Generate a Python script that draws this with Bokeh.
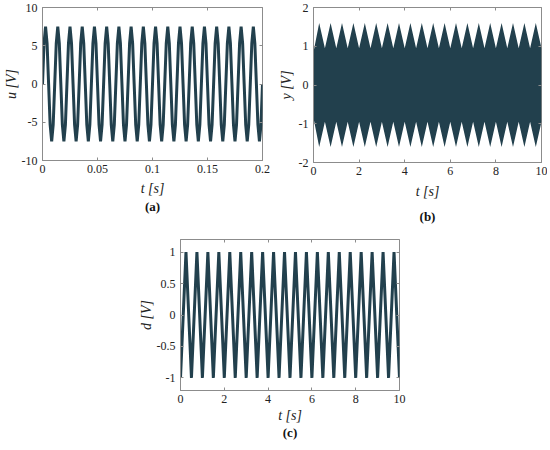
import numpy as np
from bokeh.plotting import figure
from bokeh.models import FixedTicker, LinearAxis, Range1d, Spacer, Title
from bokeh.layouts import column, row
from bokeh.embed import file_html
from bokeh.resources import INLINE

# ---------------- data ----------------
# (a) input voltage u, sampled 8 points per period over 0 .. 0.2 s
u_values = [
    0, 5.3, 7.5, 5.3, 0, -5.3, -7.5, -5.3,
    0, 5.3, 7.5, 5.3, 0, -5.3, -7.5, -5.3,
    0, 5.3, 7.5, 5.3, 0, -5.3, -7.5, -5.3,
    0, 5.3, 7.5, 5.3, 0, -5.3, -7.5, -5.3,
    0, 5.3, 7.5, 5.3, 0, -5.3, -7.5, -5.3,
    0, 5.3, 7.5, 5.3, 0, -5.3, -7.5, -5.3,
    0, 5.3, 7.5, 5.3, 0, -5.3, -7.5, -5.3,
    0, 5.3, 7.5, 5.3, 0, -5.3, -7.5, -5.3,
    0, 5.3, 7.5, 5.3, 0, -5.3, -7.5, -5.3,
    0, 5.3, 7.5, 5.3, 0, -5.3, -7.5, -5.3,
    0, 5.3, 7.5, 5.3, 0, -5.3, -7.5, -5.3,
    0, 5.3, 7.5, 5.3, 0, -5.3, -7.5, -5.3,
    0, 5.3, 7.5, 5.3, 0, -5.3, -7.5, -5.3,
    0, 5.3, 7.5, 5.3, 0, -5.3, -7.5, -5.3,
    0, 5.3, 7.5, 5.3, 0, -5.3, -7.5, -5.3,
    0, 5.3, 7.5, 5.3, 0, -5.3, -7.5, -5.3,
    0, 5.3, 7.5, 5.3, 0, -5.3, -7.5, -5.3,
    0, 5.3, 7.5, 5.3, 0, -5.3, -7.5, -5.3,
    0,
]
u_t_start, u_t_end = 0.0, 0.2

# (b) output y: envelope of the dense oscillation
y_env_t = [0, 0.25, 0.5, 0.75, 1, 1.25, 1.5, 1.75, 2, 2.25, 2.5, 2.75, 3, 3.25,
           3.5, 3.75, 4, 4.25, 4.5, 4.75, 5, 5.25, 5.5, 5.75, 6, 6.25, 6.5,
           6.75, 7, 7.25, 7.5, 7.75, 8, 8.25, 8.5, 8.75, 9, 9.25, 9.5, 9.75, 10]
y_env_upper = [0.85, 1.6, 0.95, 1.6, 0.95, 1.6, 0.95, 1.6, 0.95, 1.6, 0.95,
               1.6, 0.95, 1.6, 0.95, 1.6, 0.95, 1.6, 0.95, 1.6, 0.95, 1.6,
               0.95, 1.6, 0.95, 1.6, 0.95, 1.6, 0.95, 1.6, 0.95, 1.6, 0.95,
               1.6, 0.95, 1.6, 0.95, 1.6, 0.95, 1.6, 0.95]
y_env_lower = [-0.85, -1.6, -0.95, -1.6, -0.95, -1.6, -0.95, -1.6, -0.95, -1.6,
               -0.95, -1.6, -0.95, -1.6, -0.95, -1.6, -0.95, -1.6, -0.95, -1.6,
               -0.95, -1.6, -0.95, -1.6, -0.95, -1.6, -0.95, -1.6, -0.95, -1.6,
               -0.95, -1.6, -0.95, -1.6, -0.95, -1.6, -0.95, -1.6, -0.95, -1.6,
               -0.95]

# (c) disturbance d: triangle wave vertices
d_t = [0, 0.25, 0.5, 0.75, 1, 1.25, 1.5, 1.75, 2, 2.25, 2.5, 2.75, 3, 3.25,
       3.5, 3.75, 4, 4.25, 4.5, 4.75, 5, 5.25, 5.5, 5.75, 6, 6.25, 6.5,
       6.75, 7, 7.25, 7.5, 7.75, 8, 8.25, 8.5, 8.75, 9, 9.25, 9.5, 9.75, 10]
d_values = [-1, 1, -1, 1, -1, 1, -1, 1, -1, 1, -1, 1, -1, 1, -1, 1, -1, 1, -1,
            1, -1, 1, -1, 1, -1, 1, -1, 1, -1, 1, -1, 1, -1, 1, -1, 1, -1, 1,
            -1, 1, -1]

# ticks
a_xticks = [0, 0.05, 0.1, 0.15, 0.2]
a_xlabels = ["0", "0.05", "0.1", "0.15", "0.2"]
a_yticks = [-10, -5, 0, 5, 10]
a_ylabels = ["-10", "-5", "0", "5", "10"]
b_xticks = [0, 2, 4, 6, 8, 10]
b_xlabels = ["0", "2", "4", "6", "8", "10"]
b_yticks = [-2, -1, 0, 1, 2]
b_ylabels = ["-2", "-1", "0", "1", "2"]
c_xticks = [0, 2, 4, 6, 8, 10]
c_xlabels = ["0", "2", "4", "6", "8", "10"]
c_yticks = [-1, -0.5, 0, 0.5, 1]
c_ylabels = ["-1", "-0.5", "0", "0.5", "1"]

# ---------------- style ----------------
LINE = "#22404d"
AXC = "#8c8c8c"
TXT = "#222222"
FONT = "Liberation Serif"
TICK_FS = "12px"
LAB_FS = "14px"
HAS_STANDOFF = "standoff" in Title.properties()


def make_panel(xr, yr, xticks, xlabels, yticks, ylabels, fw, fh,
               bl, br, bt, bb, xlabel, ylabel, caption, cap_dx, cap_gap,
               xlab_standoff, ylab_standoff):
    p = figure(output_backend="svg", toolbar_location=None,
               frame_width=fw, frame_height=fh,
               x_range=Range1d(*xr), y_range=Range1d(*yr),
               min_border_left=bl, min_border_right=br,
               min_border_top=bt, min_border_bottom=bb)
    p.grid.visible = False
    p.outline_line_color = AXC
    p.outline_line_width = 1
    p.background_fill_color = "white"
    p.border_fill_color = "white"
    for ax, ticks, labels in ((p.xaxis[0], xticks, xlabels),
                              (p.yaxis[0], yticks, ylabels)):
        ax.ticker = FixedTicker(ticks=ticks)
        ax.major_label_overrides = {t: l for t, l in zip(ticks, labels)}
        ax.major_tick_in = 3
        ax.major_tick_out = 0
        ax.minor_tick_line_color = None
        ax.axis_line_color = AXC
        ax.major_tick_line_color = AXC
        ax.major_label_text_font = FONT
        ax.major_label_text_font_size = TICK_FS
        ax.major_label_text_color = TXT
        ax.axis_label_text_font = FONT
        ax.axis_label_text_font_size = LAB_FS
        ax.axis_label_text_font_style = "italic"
        ax.axis_label_text_color = TXT
    p.xaxis[0].major_label_standoff = 4
    p.yaxis[0].major_label_standoff = 5
    p.xaxis[0].axis_label = xlabel
    p.yaxis[0].axis_label = ylabel
    p.xaxis[0].axis_label_standoff = xlab_standoff
    p.yaxis[0].axis_label_standoff = ylab_standoff
    for loc, ticks in (("above", xticks), ("right", yticks)):
        ax = LinearAxis(ticker=FixedTicker(ticks=ticks),
                        major_label_overrides={t: "" for t in ticks},
                        major_label_text_font_size="0px",
                        major_label_standoff=0,
                        major_tick_in=3, major_tick_out=0,
                        minor_tick_line_color=None,
                        axis_line_color=None,
                        major_tick_line_color=AXC)
        p.add_layout(ax, loc)
    cap = Title(text=caption, align="center", offset=cap_dx,
                text_font=FONT, text_font_size="13px",
                text_font_style="bold", text_color="#111111")
    if HAS_STANDOFF:
        cap.standoff = cap_gap
    p.add_layout(cap, "below")
    return p


# ---------------- panel (a) ----------------
pa = make_panel((0, 0.2), (-10, 10), a_xticks, a_xlabels, a_yticks, a_ylabels,
                220, 153, 37, 13, 7, 60, "t [s]", "u [V]", "(a)", -12, -4, 5, 0)
u_t = np.linspace(u_t_start, u_t_end, len(u_values))
pa.line(u_t, u_values, line_color=LINE, line_width=3)

# ---------------- panel (b) ----------------
pb = make_panel((0, 10), (-2, 2), b_xticks, b_xlabels, b_yticks, b_ylabels,
                228, 155, 36, 6, 6, 59, "t [s]", "y [V]", "(b)", -15, 10, 6, 2)
pb.varea(x=y_env_t, y1=y_env_lower, y2=y_env_upper, fill_color=LINE)

# ---------------- panel (c) ----------------
pc = make_panel((0, 10), (-1.2, 1.2), c_xticks, c_xlabels, c_yticks, c_ylabels,
                219, 151, 40, 12, 12, 51, "t [s]", "d [V]", "(c)", -18, -6, 2, 0)
pc.line(d_t, d_values, line_color=LINE, line_width=3)

layout = column(row(pa, pb), row(Spacer(width=135, height=10), pc))

open("out.html", "w").write(file_html(layout, INLINE))
